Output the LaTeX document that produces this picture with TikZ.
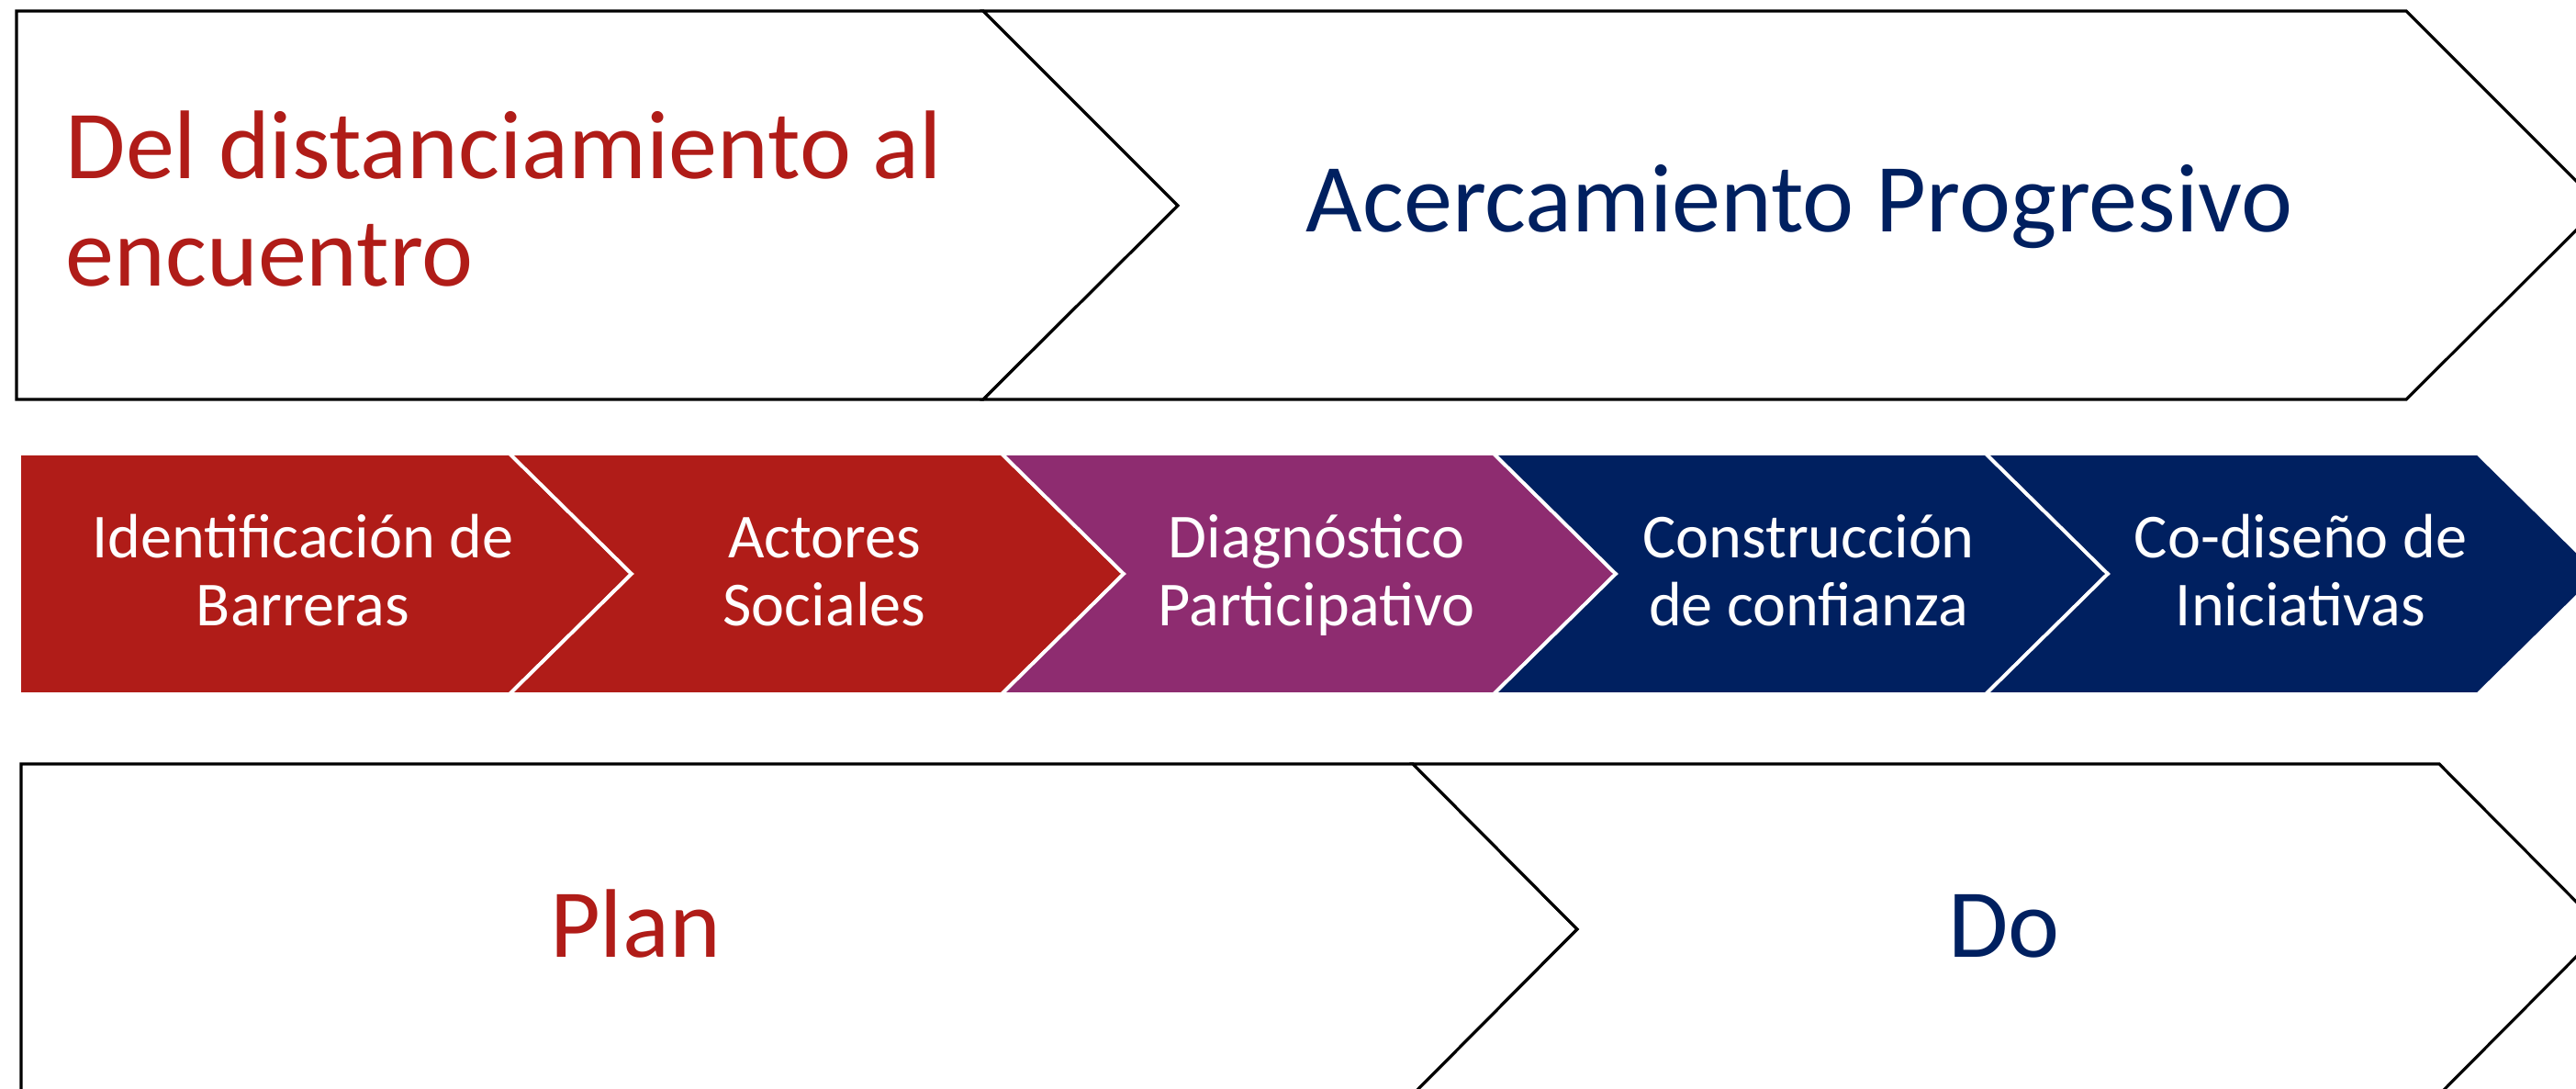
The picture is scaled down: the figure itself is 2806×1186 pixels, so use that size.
\documentclass[tikz,border=0pt]{standalone}
\usepackage{fontspec}
\setmainfont{Carlito}
\definecolor{redA}{RGB}{176,28,24}
\definecolor{navyA}{RGB}{0,32,96}
\definecolor{purpleA}{RGB}{142,44,112}
\tikzset{
  outline/.style={draw=black, line width=0.9pt, fill=white},
  band/.style={draw=white, line width=1.1pt},
  bigtext/.style={font=\fontsize{30.2}{33.3}\selectfont, inner sep=0pt},
  steptext/.style={font=\fontsize{19.4}{21.3}\selectfont, text=white, align=center, inner sep=0pt}
}
\begin{document}
\begin{tikzpicture}[x=0.01cm,y=-0.01cm]
\clip (0,0) rectangle (2806,1186);
\draw[outline] (18,12) -- (1071,12) -- (1283,224) -- (1071,435) -- (18,435) -- cycle;
\draw[outline] (1071,12) -- (2621,12) -- (2833,224) -- (2621,435) -- (1071,435) -- (1283,224) -- cycle;
\node[bigtext, text=redA, align=left, anchor=base west] (dist) at (71,312) {Del distanciamiento al\\encuentro};
\node[bigtext, text=navyA, anchor=base] (acerc) at (1960,253) {Acercamiento Progresivo};
\draw[band, fill=redA] (21,494) -- (555,494) -- (688,625) -- (555,756) -- (21,756) -- cycle;
\foreach \x/\col in {555/redA,1091/purpleA,1627/navyA,2163/navyA}
  \draw[band, fill=\col] (\x,494) -- (\x+536,494) -- (\x+669,625) -- (\x+536,756) -- (\x,756) -- (\x+133,625) -- cycle;
\foreach \x/\name/\txt in {330/barr/{Identificación de\\Barreras},898/act/{Actores\\Sociales},1434/diag/{Diagnóstico\\Participativo},1970/conf/{Construcción\\de confianza},2506/codis/{Co-diseño de\\Iniciativas}}
  \node[steptext, anchor=base] (\name) at (\x,682) {\txt};
\draw[outline] (23,832) -- (1539,832) -- (1718,1012) -- (1539,1192) -- (23,1192) -- cycle;
\draw[outline] (1539,832) -- (2657,832) -- (2836,1012) -- (2657,1192) -- (1539,1192) -- (1718,1012) -- cycle;
\node[bigtext, text=redA, anchor=base] (plan) at (692,1042) {Plan};
\node[bigtext, text=navyA, anchor=base] (do) at (2183,1042) {Do};
\end{tikzpicture}
\end{document}
